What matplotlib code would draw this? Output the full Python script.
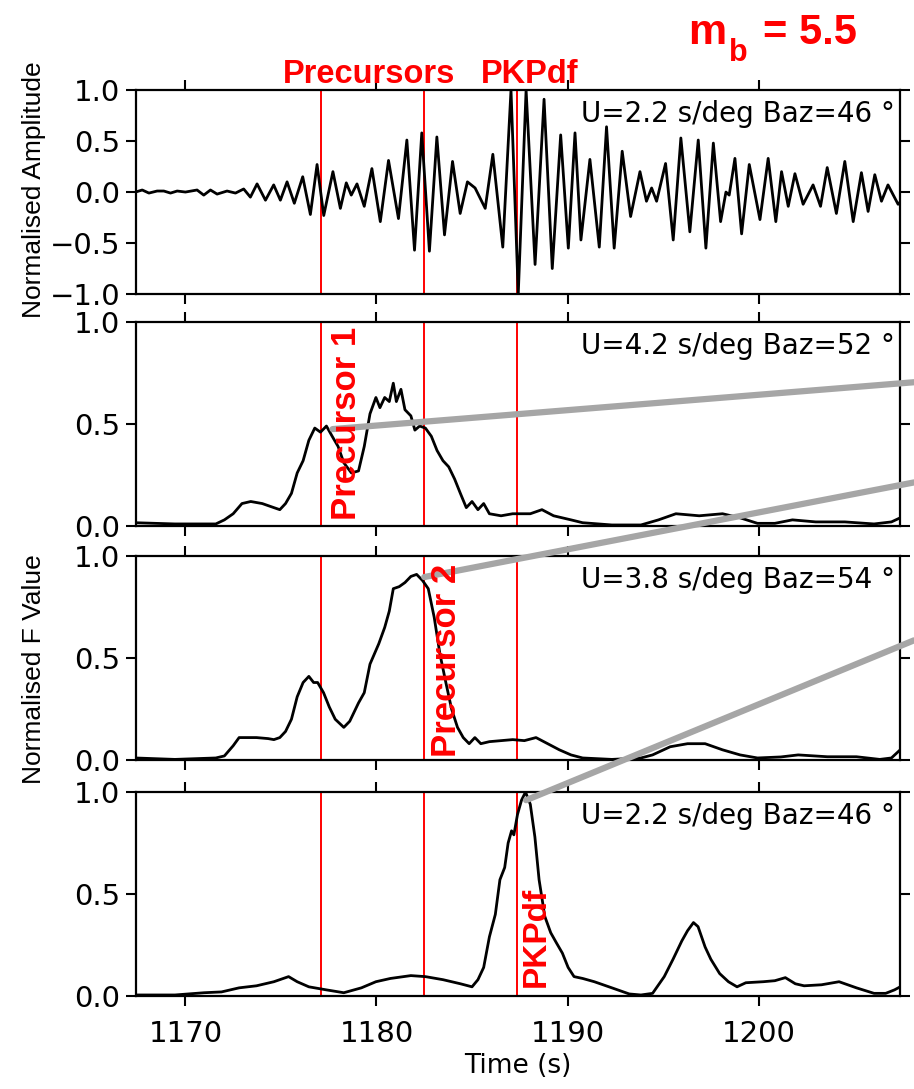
import matplotlib
matplotlib.use('Agg')
import matplotlib.pyplot as plt
from matplotlib.patches import ConnectionPatch
from matplotlib.ticker import ScalarFormatter

# beam waveform (peaks and troughs), normalised amplitude
wave_t = [1167.39, 1167.74, 1168.09, 1168.52, 1168.87, 1169.22, 1169.57, 1170.00,
          1170.61, 1170.96, 1171.31, 1171.66, 1172.18, 1172.62, 1173.05, 1173.40,
          1173.75, 1174.19, 1174.62, 1174.97, 1175.32, 1175.70, 1176.14, 1176.54,
          1176.89, 1177.24, 1177.72, 1178.11, 1178.42, 1178.68, 1178.98, 1179.36,
          1179.76, 1180.20, 1180.63, 1181.15, 1181.59, 1181.99, 1182.37, 1182.77,
          1183.16, 1183.56, 1183.98, 1184.38, 1184.76, 1185.16, 1185.69, 1186.09,
          1186.61, 1187.04, 1187.42, 1187.83, 1188.30, 1188.77, 1189.20, 1189.64,
          1190.04, 1190.39, 1190.70, 1191.17, 1191.66, 1192.04, 1192.44, 1192.86,
          1193.30, 1193.79, 1194.13, 1194.40, 1194.66, 1195.13, 1195.53, 1195.93,
          1196.40, 1196.84, 1197.24, 1197.63, 1198.01, 1198.29, 1198.46, 1198.76,
          1199.11, 1199.51, 1200.07, 1200.50, 1200.90, 1201.20, 1201.55, 1201.90,
          1202.33, 1202.85, 1203.24, 1203.59, 1204.07, 1204.51, 1204.95, 1205.38,
          1205.73, 1206.08, 1206.43, 1206.77, 1207.30, 1207.40]
wave_a = [0.0, 0.02, -0.01, 0.01, 0.01, -0.01, 0.01, 0.0,
          0.02, -0.03, 0.02, -0.02, 0.01, -0.01, 0.03, -0.05,
          0.08, -0.08, 0.07, -0.08, 0.10, -0.11, 0.15, -0.22,
          0.27, -0.23, 0.20, -0.16, 0.09, -0.03, 0.08, -0.14,
          0.23, -0.29, 0.31, -0.26, 0.51, -0.57, 0.58, -0.58,
          0.54, -0.42, 0.30, -0.21, 0.10, 0.04, -0.16, 0.37,
          -0.54, 1.0, -1.0, 1.0, -0.71, 0.91, -0.75, 0.56,
          -0.55, 0.58, -0.47, 0.32, -0.54, 0.64, -0.55, 0.40,
          -0.24, 0.20, -0.09, 0.04, -0.09, 0.28, -0.47, 0.53,
          -0.39, 0.51, -0.55, 0.48, -0.29, 0.0, -0.03, 0.33,
          -0.41, 0.27, -0.27, 0.33, -0.29, 0.20, -0.14, 0.18,
          -0.12, 0.07, -0.14, 0.24, -0.21, 0.30, -0.29, 0.19,
          -0.19, 0.17, -0.09, 0.07, -0.12, -0.10]

# F-trace, U=4.2 s/deg
f42_t = [1167.38, 1169.45, 1171.59, 1172.04, 1172.50, 1172.96, 1173.42, 1174.02,
         1174.63, 1174.94, 1175.24, 1175.55, 1175.85, 1176.16, 1176.46, 1176.77,
         1177.07, 1177.38, 1177.68, 1177.99, 1178.29, 1178.69, 1179.06, 1179.36,
         1179.66, 1179.97, 1180.18, 1180.43, 1180.67, 1180.88, 1181.04, 1181.28,
         1181.49, 1181.80, 1182.01, 1182.26, 1182.56, 1182.87, 1183.17, 1183.48,
         1183.78, 1184.09, 1184.39, 1184.70, 1185.00, 1185.31, 1185.61, 1185.91,
         1186.52, 1187.13, 1188.05, 1188.66, 1189.27, 1190.18, 1190.79, 1192.32,
         1193.84, 1194.76, 1195.67, 1196.89, 1198.11, 1199.03, 1199.94, 1200.85,
         1201.77, 1202.99, 1204.51, 1206.04, 1206.95, 1207.41]
f42_v = [0.016, 0.01, 0.01, 0.03, 0.06, 0.11, 0.12, 0.11,
         0.09, 0.08, 0.11, 0.16, 0.26, 0.32, 0.42, 0.48,
         0.46, 0.49, 0.44, 0.39, 0.31, 0.26, 0.27, 0.39,
         0.55, 0.63, 0.58, 0.63, 0.61, 0.70, 0.61, 0.67,
         0.57, 0.54, 0.47, 0.49, 0.48, 0.44, 0.37, 0.32,
         0.29, 0.23, 0.16, 0.09, 0.12, 0.08, 0.11, 0.06,
         0.05, 0.06, 0.06, 0.08, 0.05, 0.03, 0.016, 0.005,
         0.005, 0.03, 0.06, 0.05, 0.06, 0.04, 0.013, 0.013,
         0.03, 0.02, 0.02, 0.01, 0.02, 0.04]

# F-trace, U=3.8 s/deg
f38_t = [1167.38, 1169.45, 1171.59, 1172.04, 1172.50, 1172.81, 1173.11, 1173.72,
         1174.33, 1174.63, 1174.94, 1175.24, 1175.55, 1175.85, 1176.16, 1176.46,
         1176.71, 1176.92, 1177.23, 1177.53, 1177.84, 1178.29, 1178.60, 1179.06,
         1179.36, 1179.66, 1180.12, 1180.43, 1180.67, 1180.88, 1181.19, 1181.49,
         1181.80, 1182.10, 1182.41, 1182.71, 1183.02, 1183.32, 1183.63, 1183.93,
         1184.24, 1184.54, 1184.85, 1185.15, 1185.46, 1185.91, 1186.52, 1187.13,
         1187.74, 1188.35, 1188.96, 1189.57, 1190.18, 1190.79, 1192.32, 1193.84,
         1194.45, 1195.37, 1196.28, 1197.20, 1198.11, 1199.03, 1199.94, 1201.16,
         1202.07, 1203.60, 1205.12, 1206.34, 1206.95, 1207.41]
f38_v = [0.01, 0.003, 0.01, 0.02, 0.07, 0.11, 0.11, 0.11,
         0.105, 0.10, 0.11, 0.14, 0.20, 0.31, 0.38, 0.41,
         0.38, 0.38, 0.33, 0.26, 0.20, 0.16, 0.19, 0.28,
         0.33, 0.47, 0.57, 0.65, 0.73, 0.84, 0.85, 0.87,
         0.90, 0.91, 0.88, 0.84, 0.70, 0.52, 0.38, 0.25,
         0.16, 0.11, 0.08, 0.11, 0.08, 0.09, 0.095, 0.10,
         0.095, 0.11, 0.08, 0.05, 0.025, 0.01, 0.003, 0.01,
         0.025, 0.065, 0.08, 0.08, 0.05, 0.025, 0.01, 0.015,
         0.025, 0.016, 0.016, 0.003, 0.01, 0.05]

# F-trace, U=2.2 s/deg
f22_t = [1167.38, 1169.45, 1170.98, 1171.89, 1172.81, 1173.72, 1174.63, 1175.40,
         1175.85, 1176.46, 1177.38, 1178.29, 1179.21, 1179.97, 1180.73, 1181.80,
         1182.56, 1183.48, 1184.39, 1185.00, 1185.31, 1185.61, 1185.91, 1186.22,
         1186.46, 1186.71, 1186.89, 1187.07, 1187.19, 1187.38, 1187.59, 1187.80,
         1188.05, 1188.29, 1188.51, 1188.81, 1189.12, 1189.42, 1189.73, 1190.03,
         1190.34, 1190.79, 1191.40, 1192.32, 1193.23, 1193.84, 1194.45, 1195.06,
         1195.52, 1195.98, 1196.28, 1196.59, 1196.83, 1197.20, 1197.50, 1197.96,
         1198.42, 1198.87, 1199.33, 1200.24, 1200.85, 1201.40, 1201.92, 1202.38,
         1203.29, 1204.21, 1205.12, 1206.04, 1206.65, 1207.11, 1207.41]
f22_v = [0.005, 0.005, 0.016, 0.02, 0.04, 0.05, 0.07, 0.095,
         0.07, 0.045, 0.03, 0.016, 0.04, 0.07, 0.086, 0.10,
         0.095, 0.08, 0.06, 0.045, 0.08, 0.14, 0.29, 0.40,
         0.57, 0.63, 0.75, 0.81, 0.79, 0.89, 0.96, 1.0,
         0.94, 0.78, 0.57, 0.39, 0.31, 0.26, 0.21, 0.14,
         0.095, 0.086, 0.07, 0.04, 0.01, 0.005, 0.013, 0.095,
         0.18, 0.27, 0.32, 0.36, 0.34, 0.24, 0.18, 0.11,
         0.07, 0.045, 0.065, 0.07, 0.075, 0.09, 0.06, 0.05,
         0.055, 0.07, 0.04, 0.013, 0.013, 0.03, 0.045]

panel_labels = ['U=2.2 s/deg Baz=46 \u00b0', 'U=4.2 s/deg Baz=52 \u00b0',
                'U=3.8 s/deg Baz=54 \u00b0', 'U=2.2 s/deg Baz=46 \u00b0']
pick_times = [1177.1, 1182.5, 1187.37]
xticks = [1170, 1180, 1190, 1200]

fig = plt.figure(figsize=(9.14, 10.89), dpi=100)

left, width, height = 0.1483, 0.8364, 0.1873
bottoms = [0.7300, 0.5170, 0.3021, 0.0854]
traces = [(wave_t, wave_a), (f42_t, f42_v), (f38_t, f38_v), (f22_t, f22_v)]

axes = []
for i in range(4):
    ax = fig.add_axes([left, bottoms[i], width, height])
    t, v = traces[i]
    for tp in pick_times:
        ax.axvline(tp, color='#ff0000', lw=1.4, zorder=1)
    ax.plot(t, v, color='black', lw=2.0, solid_joinstyle='round', zorder=2)
    ax.set_xlim(1167.39, 1207.4)
    if i == 0:
        ax.set_ylim(-1, 1)
        ax.set_yticks([-1, -0.5, 0, 0.5, 1])
    else:
        ax.set_ylim(0, 1)
        ax.set_yticks([0, 0.5, 1])
    ax.set_xticks(xticks)
    ax.xaxis.set_major_formatter(ScalarFormatter(useOffset=False))
    ax.tick_params(direction='out', length=7, width=1.5, top=True, right=True,
                   labelsize=21, pad=4)
    ax.tick_params(axis='x', pad=10, labelbottom=(i == 3))
    for s in ax.spines.values():
        s.set_linewidth(1.6)
    ax.text(0.993, 0.95, panel_labels[i], transform=ax.transAxes,
            ha='right', va='top', fontsize=20)
    axes.append(ax)

fig.text(0.0367, 0.8255, 'Normalised Amplitude', rotation=90, ha='center',
         va='center', fontsize=19, family='Liberation Sans')
fig.text(0.0367, 0.3857, 'Normalised F Value', rotation=90, ha='center',
         va='center', fontsize=19, family='Liberation Sans')
fig.text(0.566, 0.021, 'Time (s)', ha='center', va='center', fontsize=19)

# grey connectors from the beam peaks off to the right
starts = [(1, 1177.7, 0.475), (2, 1182.5, 0.897), (3, 1187.83, 0.96)]
ends = [0.649, 0.557, 0.412]
for (k, tx, vy), ye in zip(starts, ends):
    con = ConnectionPatch(xyA=(tx, vy), coordsA=axes[k].transData,
                          xyB=(1.0, ye), coordsB='figure fraction',
                          color='#a6a6a6', lw=4.5, zorder=2)
    fig.add_artist(con)

red = dict(color='#ff0000', fontweight='bold', family='Liberation Sans', zorder=4)
fig.text(1178.45, 0.03, 'Precursor 1', transform=axes[1].transData,
         rotation=90, ha='center', va='bottom', fontsize=25, **red)
fig.text(1183.67, 0.015, 'Precursor 2', transform=axes[2].transData,
         rotation=90, ha='center', va='bottom', fontsize=25, **red)
fig.text(1188.35, 0.045, 'PKPdf', transform=axes[3].transData,
         rotation=90, ha='center', va='bottom', fontsize=24, **red)

fig.text(0.3096, 0.9238, 'Precursors', ha='left', va='baseline', fontsize=23.5, **red)
fig.text(0.5263, 0.9238, 'PKPdf', ha='left', va='baseline', fontsize=23.5, **red)

fig.text(0.7527, 0.9596, 'm', ha='left', va='baseline', fontsize=31, **red)
fig.text(0.7976, 0.944, 'b', ha='left', va='baseline', fontsize=22, **red)
fig.text(0.8348, 0.9596, '= 5.5', ha='left', va='baseline', fontsize=30, **red)

plt.savefig('out.png', dpi=100)
